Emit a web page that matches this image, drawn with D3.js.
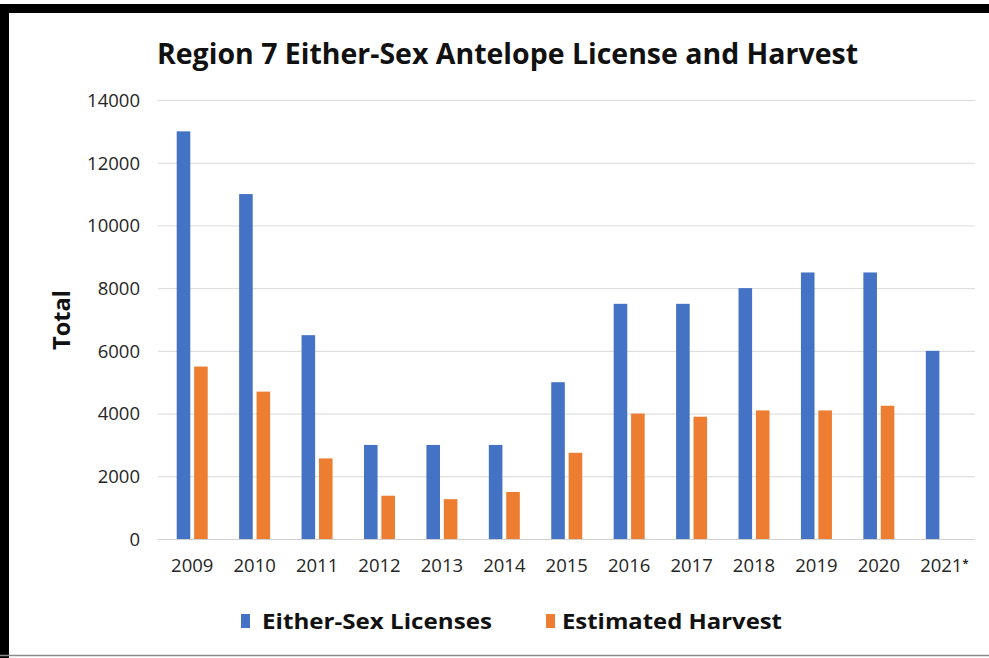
<!DOCTYPE html>
<html>
<head>
<meta charset="utf-8">
<script src="https://cdn.jsdelivr.net/npm/d3@7/dist/d3.min.js"></script>
<style>
  html, body { margin: 0; padding: 0; background: #fff; }
  svg { display: block; }
</style>
</head>
<body>
<svg id="chart" width="989" height="658"></svg>
<script>
// Region 7 either-sex antelope licenses vs. estimated harvest
const years = ["2009", "2010", "2011", "2012", "2013", "2014", "2015", "2016", "2017", "2018", "2019", "2020", "2021"];
const licenses = [13000, 11000, 6500, 3000, 3000, 3000, 5000, 7500, 7500, 8000, 8500, 8500, 6000];
const harvest = [5500, 4700, 2570, 1380, 1270, 1500, 2750, 4000, 3900, 4100, 4100, 4250, null];
const seriesNames = ["Either-Sex Licenses", "Estimated Harvest"];
const seriesColors = ["#4472C4", "#ED7D31"];
const yTicks = [0, 2000, 4000, 6000, 8000, 10000, 12000, 14000];
const footnoteYear = "2021";

const svg = d3.select("#chart");
const W = 989, H = 658;

// picture frame
svg.append("rect").attr("x", 0).attr("y", 0).attr("width", W).attr("height", H).attr("fill", "#fff");
svg.append("rect").attr("x", 0).attr("y", 4).attr("width", W).attr("height", 9).attr("fill", "#000");
svg.append("rect").attr("x", 0).attr("y", 4).attr("width", 9).attr("height", H - 4).attr("fill", "#000");
svg.append("line").attr("x1", 0).attr("x2", W).attr("y1", 655.5).attr("y2", 655.5)
  .attr("stroke", "#8a8a8a").attr("stroke-width", 1.5);

const plot = { left: 161, right: 972.5, top: 100, bottom: 539 };

const x0 = d3.scaleBand().domain(years).range([plot.left, plot.right]).paddingInner(0).paddingOuter(0);
const bw = x0.bandwidth();
const x1 = d3.scaleBand().domain(seriesNames)
  .range([bw / 2 - 15.5, bw / 2 + 15.5]).paddingInner(0.22).paddingOuter(0);
const y = d3.scaleLinear().domain([0, 14000]).range([plot.bottom, plot.top]);

// gridlines
const grid = svg.append("g")
  .attr("transform", "translate(158,0)")
  .call(d3.axisLeft(y).tickValues(yTicks).tickSize(-(975 - 158)).tickFormat(""));
grid.select(".domain").remove();
grid.selectAll(".tick line").attr("stroke", "#d9d9d9").attr("stroke-width", 1);
grid.selectAll(".tick").filter(d => d === 0).select("line").attr("stroke", "#d0d0d0");

// y tick labels
const yAxis = svg.append("g").attr("transform", "translate(140,0)")
  .call(d3.axisLeft(y).tickValues(yTicks).tickSize(0).tickPadding(0).tickFormat(d3.format("d")));
yAxis.select(".domain").remove();
yAxis.selectAll("text")
  .attr("font-family", "'Open Sans', sans-serif").attr("font-size", 18.5).attr("fill", "#262626")
  .attr("dy", "0.34em");

// x tick labels
const xAxis = svg.append("g").attr("transform", `translate(0,${plot.bottom})`)
  .call(d3.axisBottom(x0).tickSize(0).tickPadding(0));
xAxis.select(".domain").remove();
xAxis.selectAll("text")
  .attr("font-family", "'Open Sans', sans-serif").attr("font-size", 18.5).attr("fill", "#262626")
  .attr("y", 33).attr("dy", "0");
xAxis.selectAll(".tick").filter(d => d === footnoteYear).select("text")
  .each(function () {
    const t = d3.select(this);
    t.text(footnoteYear).attr("dx", 3);
    t.append("tspan").text("*").attr("font-size", 11).attr("font-weight", "bold").attr("dy", -5);
  });

// bars
const rows = years.map((yr, i) => ({ year: yr, values: [licenses[i], harvest[i]] }));
const groups = svg.append("g").selectAll("g").data(rows).join("g")
  .attr("transform", d => `translate(${x0(d.year)},0)`);
groups.selectAll("rect")
  .data(d => d.values.map((v, j) => ({ name: seriesNames[j], value: v, color: seriesColors[j] })).filter(e => e.value != null))
  .join("rect")
  .attr("x", d => x1(d.name))
  .attr("width", x1.bandwidth())
  .attr("y", d => y(d.value))
  .attr("height", d => y(0) - y(d.value))
  .attr("fill", d => d.color);

// title
svg.append("text")
  .attr("x", 157).attr("y", 64)
  .attr("font-family", "'Liberation Sans Narrow', 'Open Sans', sans-serif")
  .attr("font-weight", "bold").attr("font-size", 29).attr("fill", "#111")
  .attr("textLength", 701).attr("lengthAdjust", "spacingAndGlyphs")
  .text("Region 7 Either-Sex Antelope License and Harvest");

// y axis title
svg.append("text")
  .attr("transform", "translate(70,320) rotate(-90)")
  .attr("text-anchor", "middle")
  .attr("font-family", "'Open Sans', sans-serif").attr("font-weight", "bold")
  .attr("font-size", 23).attr("fill", "#111")
  .attr("textLength", 60).attr("lengthAdjust", "spacingAndGlyphs")
  .text("Total");

// legend
const legendItems = [
  { name: seriesNames[0], color: seriesColors[0], sx: 241, tx: 262, len: 230 },
  { name: seriesNames[1], color: seriesColors[1], sx: 546, tx: 562, len: 220 }
];
const lg = svg.append("g");
legendItems.forEach(it => {
  lg.append("rect").attr("x", it.sx).attr("y", 614).attr("width", 9).attr("height", 14).attr("fill", it.color);
  lg.append("text").attr("x", it.tx).attr("y", 629)
    .attr("font-family", "'Liberation Sans Narrow', 'Open Sans', sans-serif")
    .attr("font-weight", "bold").attr("font-size", 22).attr("fill", "#111")
    .attr("textLength", it.len).attr("lengthAdjust", "spacingAndGlyphs")
    .text(it.name);
});
</script>
</body>
</html>
